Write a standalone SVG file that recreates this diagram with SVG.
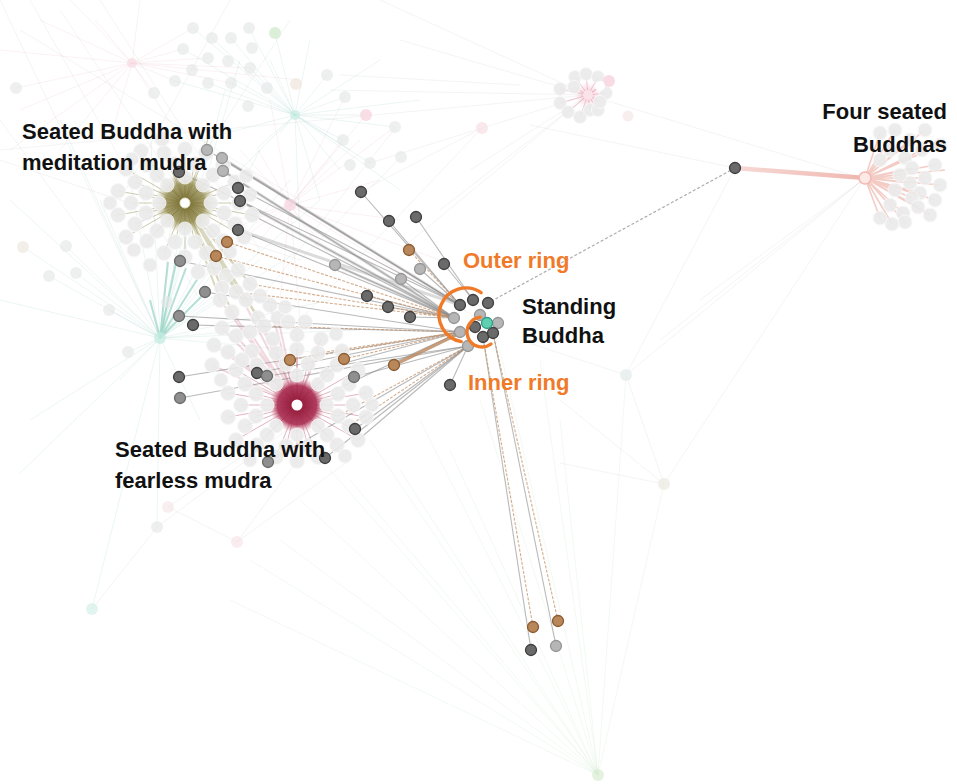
<svg xmlns="http://www.w3.org/2000/svg" width="957" height="784" viewBox="0 0 957 784">
<defs>
<radialGradient id="gOlive"><stop offset="0" stop-color="#6f6528" stop-opacity="0.95"/><stop offset="0.65" stop-color="#8a8140" stop-opacity="0.75"/><stop offset="1" stop-color="#a59c60" stop-opacity="0"/></radialGradient>
<radialGradient id="gCrimson"><stop offset="0" stop-color="#8e1434" stop-opacity="1"/><stop offset="0.7" stop-color="#a82a4e" stop-opacity="0.9"/><stop offset="1" stop-color="#d8879c" stop-opacity="0"/></radialGradient>
<radialGradient id="gPink"><stop offset="0" stop-color="#e58aa4" stop-opacity="0.6"/><stop offset="1" stop-color="#f4c6d3" stop-opacity="0"/></radialGradient>
<linearGradient id="gRed" x1="0" x2="1" y1="0" y2="0"><stop offset="0" stop-color="#f0b4ae"/><stop offset="1" stop-color="#e07262"/></linearGradient>
</defs>
<style>
.bt{fill:none;stroke:#8fcfc0;stroke-width:0.6;opacity:0.3}
.bp{fill:none;stroke:#eab3c4;stroke-width:0.6;opacity:0.3}
.bg{fill:none;stroke:#c9c9c9;stroke-width:0.6;opacity:0.35}
.bgr{fill:none;stroke:#b8dcb8;stroke-width:0.6;opacity:0.3}
.ol{fill:none;stroke:#8c8448;stroke-width:1;opacity:0.45}
.cr{fill:none;stroke:#b4425f;stroke-width:1;opacity:0.4}
.rd{fill:none;stroke:#e48070;stroke-width:1.6;opacity:0.4}
.pk{fill:none;stroke:#e58aa4;stroke-width:1;opacity:0.5}
.pn{fill:#ebebeb;stroke:#f8f8f8;stroke-width:1;opacity:0.9}
.fn{fill:#e3e6e6;opacity:0.6}
.ge{stroke:#8a8a8a;stroke-width:1.1;opacity:0.6;fill:none}
.gt{stroke:#b0b0b0;stroke-width:3;opacity:0.45;fill:none}
.gd{stroke:#8a8a8a;stroke-width:1.2;stroke-dasharray:3 2;opacity:0.7;fill:none}
.oe{stroke:#c08a5c;stroke-width:1.1;stroke-dasharray:3 1.5;opacity:0.7;fill:none}
.ot{stroke:#b8865c;stroke-width:3.5;opacity:0.8;fill:none}
.dk{fill:#6a6a6a;stroke:#3e3e3e;stroke-width:1.3}
.md{fill:#8f8f8f;stroke:#6a6a6a;stroke-width:1.3}
.lt{fill:#b6b6b6;stroke:#959595;stroke-width:1.3}
.or{fill:#b8875a;stroke:#8a5a30;stroke-width:1.3}
.ring{fill:none;stroke:#f07a28;stroke-width:3.4;stroke-linecap:round}
.lbl{font-family:"Liberation Sans",Arial,sans-serif;font-weight:bold;font-size:22px;fill:#111111}
.olbl{font-family:"Liberation Sans",Arial,sans-serif;font-weight:bold;font-size:22px;fill:#f07a28}
</style>
<rect width="957" height="784" fill="#ffffff"/>

<g id="connectors">
<path class="bt" d="M160,338L66,246M160,338L23,247M160,338L49,276M160,338L76,273M160,338L109,310M160,338L128,352M160,338L0,300M160,338L30,420M160,338L20,473M160,338L120,380M160,338L170,230M160,338L190,180M160,338L205,140M160,338L225,90M160,338L240,60M160,338L150,120M160,338L130,180M160,338L100,200M160,338L260,260M160,338L300,250M160,338L330,300M160,338L360,330M160,338L400,360M160,338L200,420M160,338L157,527M160,338L250,330M160,338L230,290M160,338L210,270M160,338L290,180M160,338L92,609M160,338L60,120M160,338L10,200M160,338L260,150M160,338L320,200"/>
<path d="M160,338L176,262M160,338L186,268M160,338L198,278M160,338L168,262M160,338L208,290M160,338L150,300" stroke="#6cc1ab" stroke-width="2" opacity="0.5" fill="none"/>
<path class="bt" d="M295,115L212,38M295,115L231,38M295,115L249,28M295,115L183,49M295,115L250,68M295,115L345,97M295,115L366,115M295,115L395,127M295,115L327,75M295,115L280,133M295,115L257,148M295,115L340,170M295,115L320,200M295,115L231,83M295,115L208,83M295,115L175,81M295,115L193,28M295,115L275,33M295,115L400,190M295,115L380,60M295,115L420,100M295,115L200,140M295,115L240,170M295,115L270,60M295,115L310,40M295,115L350,150M295,115L300,240M295,115L343,140M295,115L370,163"/>
<path class="bp" d="M132,63L40,20M132,63L70,0M132,63L0,50M132,63L20,110M132,63L95,20M132,63L175,81M132,63L183,49M132,63L208,58M132,63L154,93M132,63L110,140M132,63L231,83M132,63L60,150M132,63L10,150M132,63L193,28M132,63L140,0M132,63L250,68M132,63L300,80M132,63L175,130M132,63L16,88"/>
<path class="bp" d="M290,205L240,150M290,205L250,170M290,205L330,160M290,205L360,140M290,205L345,97M290,205L380,180M290,205L400,220M290,205L260,240M290,205L230,230M290,205L200,230M290,205L320,250M290,205L350,280M290,205L280,300M290,205L300,320M290,205L395,127M290,205L440,260M290,205L480,320M290,205L343,140M290,205L257,148M290,205L210,260M290,205L270,100M290,205L366,115"/>
<path class="bg" d="M0,0L160,338M30,0L200,300M60,10L240,280M0,120L160,338M0,160L300,260M20,30L300,200M100,0L260,250M230,0L120,200M290,20L200,160M400,40L588,95M340,75L520,85M330,90L588,95M588,95L440,210M588,95L400,250M588,95L470,170M588,95L370,163M588,95L0,150M588,95L864,179M530,125L735,168M380,0L588,95M482,128L360,192M482,128L300,320M401,157L300,260M396,127L260,300"/>
<path class="bgr" d="M598,775L420,420M598,775L370,440M598,775L330,470M598,775L300,500M598,775L280,540M598,775L480,400M598,775L500,350M598,775L540,360M598,775L626,375M598,775L664,484M598,775L560,420M598,775L450,450M598,775L250,560M598,775L230,600M598,775L400,470M598,775L350,480"/>
<path class="bg" d="M626,375L664,484M626,375L520,340M626,375L864,179M664,484L864,179M560,400L664,484M560,463L664,484M864,179L700,300M864,179L660,340M626,375L735,168M168,507L237,542M157,527L92,609M157,527L300,420M168,507L280,430M237,542L320,430M237,542L350,460"/>
<path class="ol" d="M185,203L211,203M185,203L203,221M185,203L185,229M185,203L167,221M185,203L159,203M185,203L167,185M185,203L185,177M185,203L203,185M185,203L224,213M185,203L213,231M185,203L195,242M185,203L175,242M185,203L157,231M185,203L146,213M185,203L146,193M185,203L157,175M185,203L175,164M185,203L195,164M185,203L213,175M185,203L224,193M185,203L239,203M185,203L235,224M185,203L223,241M185,203L206,253M185,203L185,257M185,203L164,253M185,203L147,241M185,203L135,224M185,203L131,203M185,203L135,182M185,203L147,165M185,203L164,153M185,203L185,149M185,203L206,153M185,203L223,165M185,203L235,182M185,203L252,215M185,203L244,237M185,203L126,237M185,203L118,215M185,203L118,191M185,203L126,169M185,203L141,151M185,203L162,139M185,203L208,139"/>
<path d="M185,203L214,268M185,203L226,276M185,203L238,270M185,203L222,288M185,203L236,292M185,203L250,284M185,203L246,300M185,203L232,312M185,203L258,318M185,203L220,300M185,203L246,306M185,203L264,326" stroke="#a19a5c" stroke-width="2" opacity="0.4" fill="none"/>
<path class="cr" d="M297,405L338,416M297,405L327,435M297,405L308,446M297,405L286,446M297,405L267,435M297,405L256,416M297,405L256,394M297,405L267,375M297,405L286,364M297,405L308,364M297,405L327,375M297,405L338,394M297,405L353,405M297,405L349,426M297,405L337,445M297,405L318,457M297,405L297,461M297,405L276,457M297,405L257,445M297,405L245,426M297,405L241,405M297,405L245,384M297,405L257,365M297,405L276,353M297,405L297,349M297,405L318,353M297,405L337,365M297,405L349,384M297,405L228,393M297,405L236,370M297,405L252,351M297,405L273,339M297,405L297,335M297,405L321,339M297,405L342,351M297,405L358,370M297,405L366,393M297,405L366,417M297,405L358,440M297,405L228,417M297,405L236,440"/>
<path d="M297,405L220,300M297,405L232,312M297,405L246,306M297,405L258,318M297,405L222,328M297,405L236,336M297,405L250,332M297,405L264,326M297,405L214,345M297,405L228,352M297,405L242,360M297,405L212,365M297,405L278,318M297,405L270,305" stroke="#d88ea2" stroke-width="2" opacity="0.35" fill="none"/>
<path class="pk" d="M588,95L575,77M588,95L586,74M588,95L598,77M588,95L609,81M588,95L600,86M588,95L606,93M588,95L560,89M588,95L574,87M588,95L560,103M588,95L568,112M588,95L580,117M588,95L590,110M588,95L598,110M588,95L600,102"/>
<path class="rd" d="M865,178L880,133M865,178L895,130M865,178L910,140M865,178L905,158M865,178L922,150M865,178L935,165M865,178L912,168M865,178L925,178M865,178L940,185M865,178L910,183M865,178L920,193M865,178L935,200M865,178L912,198M865,178L918,207M865,178L930,215M865,178L903,213M865,178L905,222M865,178L892,224M865,178L880,218M865,178L890,205M865,178L895,190M865,178L890,150M865,178L900,175M865,178L880,160M865,178L925,130M865,178L940,145M865,178L945,170"/>
<line x1="735" y1="168" x2="865" y2="178" stroke="url(#gRed)" stroke-width="4.5" opacity="0.5"/>

<line class="gt" x1="223" y1="171" x2="454" y2="318"/>
<line class="gt" x1="240" y1="201" x2="454" y2="318"/>
<line class="gt" x1="335" y1="265" x2="454" y2="318"/>
<line class="gt" x1="238" y1="230" x2="460" y2="305"/>
<line class="gt" x1="222" y1="158" x2="460" y2="305"/>
<line class="ge" x1="207" y1="150" x2="460" y2="305"/>
<line class="ge" x1="222" y1="158" x2="460" y2="305"/>
<line class="ge" x1="223" y1="171" x2="454" y2="318"/>
<line class="ge" x1="179" y1="172" x2="460" y2="305"/>
<line class="ge" x1="238" y1="188" x2="460" y2="305"/>
<line class="ge" x1="240" y1="201" x2="454" y2="318"/>
<line class="ge" x1="238" y1="230" x2="454" y2="318"/>
<line class="ge" x1="180" y1="261" x2="454" y2="318"/>
<line class="ge" x1="205" y1="292" x2="460" y2="332"/>
<line class="ge" x1="179" y1="316" x2="460" y2="332"/>
<line class="ge" x1="193" y1="325" x2="460" y2="332"/>
<line class="ge" x1="179" y1="377" x2="460" y2="332"/>
<line class="ge" x1="180" y1="398" x2="468" y2="346"/>
<line class="ge" x1="257" y1="373" x2="460" y2="332"/>
<line class="ge" x1="267" y1="376" x2="468" y2="346"/>
<line class="ge" x1="354" y1="377" x2="468" y2="346"/>
<line class="ge" x1="355" y1="429" x2="468" y2="346"/>
<line class="ge" x1="268" y1="462" x2="468" y2="346"/>
<line class="ge" x1="325" y1="458" x2="468" y2="346"/>
<line class="ge" x1="388" y1="307" x2="454" y2="318"/>
<line class="ge" x1="361" y1="192" x2="460" y2="305"/>
<line class="ge" x1="389" y1="221" x2="460" y2="305"/>
<line class="ge" x1="416" y1="217" x2="473" y2="300"/>
<line class="ge" x1="444" y1="264" x2="473" y2="300"/>
<line class="ge" x1="420" y1="269" x2="460" y2="305"/>
<line class="ge" x1="335" y1="265" x2="454" y2="318"/>
<line class="ge" x1="401" y1="279" x2="454" y2="318"/>
<line class="ge" x1="367" y1="296" x2="454" y2="318"/>
<line class="ge" x1="410" y1="317" x2="454" y2="318"/>
<line class="ge" x1="450" y1="385" x2="468" y2="346"/>
<line class="ge" x1="531" y1="650" x2="483" y2="337"/>
<line class="ge" x1="556" y1="646" x2="493" y2="333"/>
<line class="ge" x1="345" y1="385" x2="460" y2="332"/>
<line class="ge" x1="358" y1="440" x2="468" y2="346"/>
<line class="ge" x1="337" y1="365" x2="460" y2="332"/>
<line class="ge" x1="252" y1="215" x2="454" y2="318"/>
<line class="gd" x1="735" y1="168" x2="488" y2="303"/>
<line class="oe" x1="227" y1="242" x2="454" y2="318"/>
<line class="oe" x1="216" y1="256" x2="454" y2="318"/>
<line class="oe" x1="290" y1="360" x2="460" y2="332"/>
<line class="oe" x1="344" y1="359" x2="460" y2="332"/>
<line class="oe" x1="409" y1="250" x2="460" y2="305"/>
<line class="oe" x1="533" y1="627" x2="483" y2="337"/>
<line class="oe" x1="558" y1="621" x2="493" y2="333"/>
<line class="oe" x1="250" y1="284" x2="454" y2="318"/>
<line class="oe" x1="264" y1="326" x2="460" y2="332"/>
<line class="oe" x1="338" y1="416" x2="468" y2="346"/>
<line class="oe" x1="236" y1="292" x2="454" y2="318"/>
<line class="oe" x1="318" y1="353" x2="460" y2="332"/>
<line class="oe" x1="349" y1="426" x2="468" y2="346"/>
<line class="ot" x1="394" y1="365" x2="458" y2="334"/>
</g>

<g id="background-nodes">
<circle class="fn" cx="193" cy="28" r="6"/><circle class="fn" cx="212" cy="38" r="6"/><circle class="fn" cx="231" cy="38" r="6"/><circle class="fn" cx="249" cy="28" r="6"/>
<circle cx="275" cy="33" r="6" fill="#cde8c8" opacity="0.7"/>
<circle class="fn" cx="183" cy="49" r="6"/><circle class="fn" cx="208" cy="58" r="6"/><circle class="fn" cx="228" cy="61" r="6"/><circle class="fn" cx="250" cy="68" r="6"/><circle class="fn" cx="252" cy="48" r="6"/>
<circle class="fn" cx="175" cy="81" r="6"/><circle class="fn" cx="192" cy="70" r="6"/><circle class="fn" cx="208" cy="83" r="6"/><circle class="fn" cx="231" cy="83" r="6"/><circle class="fn" cx="248" cy="106" r="6"/><circle class="fn" cx="267" cy="88" r="6"/>
<circle class="fn" cx="154" cy="93" r="6"/><circle class="fn" cx="16" cy="88" r="6"/><circle cx="296" cy="84" r="6" fill="#eee6dc" opacity="0.7"/><circle class="fn" cx="327" cy="75" r="6"/><circle class="fn" cx="345" cy="97" r="6"/>
<circle cx="366" cy="115" r="6" fill="#f7d6de" opacity="0.8"/><circle class="fn" cx="395" cy="127" r="6"/><circle class="fn" cx="343" cy="140" r="6"/><circle class="fn" cx="350" cy="165" r="6"/><circle class="fn" cx="370" cy="163" r="6"/><circle class="fn" cx="401" cy="157" r="6"/>
<circle cx="482" cy="128" r="6" fill="#f7e0e4" opacity="0.7"/><circle cx="628" cy="116" r="5.5" fill="#f5e2e2" opacity="0.6"/>
<circle cx="132" cy="63" r="5" fill="#f7dce2" opacity="0.7"/><circle cx="295" cy="115" r="5" fill="#c8ece2" opacity="0.7"/><circle cx="290" cy="205" r="6" fill="#f6d8e2" opacity="0.8"/>
<circle cx="23" cy="247" r="6" fill="#ece8df" opacity="0.7"/><circle class="fn" cx="66" cy="246" r="6"/><circle class="fn" cx="49" cy="276" r="6"/><circle class="fn" cx="76" cy="273" r="6"/><circle class="fn" cx="109" cy="310" r="6"/><circle class="fn" cx="128" cy="352" r="6"/><circle class="fn" cx="167" cy="302" r="6"/>
<circle cx="160" cy="338" r="6" fill="#c6ece2" opacity="0.8"/>
<circle class="fn" cx="157" cy="527" r="6"/><circle cx="168" cy="507" r="6" fill="#f7e4e6" opacity="0.6"/><circle cx="237" cy="542" r="6" fill="#f7e0e4" opacity="0.6"/><circle cx="92" cy="609" r="6" fill="#d6efe8" opacity="0.7"/>
<circle cx="626" cy="375" r="6" fill="#e6ecee" opacity="0.8"/><circle cx="664" cy="484" r="6" fill="#ecece4" opacity="0.8"/><circle cx="598" cy="775" r="6" fill="#d8ecd2" opacity="0.7"/>
</g>

<g id="hub-meditation">
<circle cx="185" cy="203" r="30" fill="url(#gOlive)"/>
<g class="pn">
<circle cx="211" cy="203" r="7"/><circle cx="203" cy="221" r="7"/><circle cx="185" cy="229" r="7"/><circle cx="167" cy="221" r="7"/><circle cx="159" cy="203" r="7"/><circle cx="167" cy="185" r="7"/><circle cx="185" cy="177" r="7"/><circle cx="203" cy="185" r="7"/>
<circle cx="224" cy="213" r="7.5"/><circle cx="213" cy="231" r="7.5"/><circle cx="195" cy="242" r="7.5"/><circle cx="175" cy="242" r="7.5"/><circle cx="157" cy="231" r="7.5"/><circle cx="146" cy="213" r="7.5"/><circle cx="146" cy="193" r="7.5"/><circle cx="157" cy="175" r="7.5"/><circle cx="175" cy="164" r="7.5"/><circle cx="195" cy="164" r="7.5"/><circle cx="213" cy="175" r="7.5"/><circle cx="224" cy="193" r="7.5"/>
<circle cx="239" cy="203" r="7.5"/><circle cx="235" cy="224" r="7.5"/><circle cx="223" cy="241" r="7.5"/><circle cx="206" cy="253" r="7.5"/><circle cx="185" cy="257" r="7.5"/><circle cx="164" cy="253" r="7.5"/><circle cx="147" cy="241" r="7.5"/><circle cx="135" cy="224" r="7.5"/><circle cx="131" cy="203" r="7.5"/><circle cx="135" cy="182" r="7.5"/><circle cx="147" cy="165" r="7.5"/><circle cx="164" cy="153" r="7.5"/><circle cx="185" cy="149" r="7.5"/><circle cx="206" cy="153" r="7.5"/><circle cx="223" cy="165" r="7.5"/><circle cx="235" cy="182" r="7.5"/>
<circle cx="252" cy="215" r="7.5"/><circle cx="244" cy="237" r="7.5"/><circle cx="126" cy="237" r="7.5"/><circle cx="118" cy="215" r="7.5"/><circle cx="118" cy="191" r="7.5"/><circle cx="126" cy="169" r="7.5"/><circle cx="141" cy="151" r="7.5"/><circle cx="162" cy="139" r="7.5"/>
<circle cx="250" cy="195" r="7"/><circle cx="230" cy="252" r="7"/><circle cx="134" cy="250" r="7"/><circle cx="110" cy="203" r="7"/><circle cx="132" cy="159" r="7"/><circle cx="246" cy="176" r="7"/><circle cx="150" cy="265" r="7"/>
<circle cx="214" cy="268" r="7.5"/><circle cx="226" cy="276" r="7.5"/><circle cx="238" cy="270" r="7.5"/><circle cx="222" cy="288" r="7.5"/><circle cx="236" cy="292" r="7.5"/><circle cx="250" cy="284" r="7.5"/><circle cx="246" cy="300" r="7.5"/><circle cx="198" cy="272" r="7.5"/>
</g>
<circle cx="185" cy="203" r="5" fill="#ffffff" stroke="#e8e4c8" stroke-width="1"/>
</g>

<g id="hub-fearless">
<circle cx="297" cy="405" r="28" fill="url(#gCrimson)"/>
<g class="pn">
<circle cx="327" cy="405" r="7"/><circle cx="318" cy="426" r="7"/><circle cx="297" cy="435" r="7"/><circle cx="276" cy="426" r="7"/><circle cx="267" cy="405" r="7"/><circle cx="276" cy="384" r="7"/><circle cx="297" cy="375" r="7"/><circle cx="318" cy="384" r="7"/>
<circle cx="338" cy="416" r="7.5"/><circle cx="327" cy="435" r="7.5"/><circle cx="308" cy="446" r="7.5"/><circle cx="286" cy="446" r="7.5"/><circle cx="267" cy="435" r="7.5"/><circle cx="256" cy="416" r="7.5"/><circle cx="256" cy="394" r="7.5"/><circle cx="267" cy="375" r="7.5"/><circle cx="286" cy="364" r="7.5"/><circle cx="308" cy="364" r="7.5"/><circle cx="327" cy="375" r="7.5"/><circle cx="338" cy="394" r="7.5"/>
<circle cx="353" cy="405" r="7.5"/><circle cx="349" cy="426" r="7.5"/><circle cx="337" cy="445" r="7.5"/><circle cx="318" cy="457" r="7.5"/><circle cx="297" cy="461" r="7.5"/><circle cx="276" cy="457" r="7.5"/><circle cx="257" cy="445" r="7.5"/><circle cx="245" cy="426" r="7.5"/><circle cx="241" cy="405" r="7.5"/><circle cx="245" cy="384" r="7.5"/><circle cx="257" cy="365" r="7.5"/><circle cx="276" cy="353" r="7.5"/><circle cx="297" cy="349" r="7.5"/><circle cx="318" cy="353" r="7.5"/><circle cx="337" cy="365" r="7.5"/><circle cx="349" cy="384" r="7.5"/>
<circle cx="228" cy="393" r="7.5"/><circle cx="236" cy="370" r="7.5"/><circle cx="252" cy="351" r="7.5"/><circle cx="273" cy="339" r="7.5"/><circle cx="297" cy="335" r="7.5"/><circle cx="321" cy="339" r="7.5"/><circle cx="342" cy="351" r="7.5"/><circle cx="358" cy="370" r="7.5"/><circle cx="366" cy="393" r="7.5"/><circle cx="366" cy="417" r="7.5"/><circle cx="358" cy="440" r="7.5"/><circle cx="228" cy="417" r="7.5"/><circle cx="236" cy="440" r="7.5"/>
<circle cx="220" cy="300" r="7.5"/><circle cx="232" cy="312" r="7.5"/><circle cx="258" cy="318" r="7.5"/><circle cx="222" cy="328" r="7.5"/><circle cx="236" cy="336" r="7.5"/><circle cx="250" cy="332" r="7.5"/><circle cx="264" cy="326" r="7.5"/><circle cx="214" cy="345" r="7.5"/><circle cx="228" cy="352" r="7.5"/><circle cx="242" cy="360" r="7.5"/><circle cx="212" cy="365" r="7.5"/><circle cx="278" cy="318" r="7.5"/><circle cx="270" cy="305" r="7.5"/><circle cx="288" cy="322" r="7.5"/><circle cx="305" cy="322" r="7.5"/><circle cx="260" cy="296" r="7.5"/>
<circle cx="372" cy="405" r="7"/><circle cx="345" cy="456" r="7"/><circle cx="250" cy="460" r="7"/><circle cx="221" cy="380" r="7"/><circle cx="336" cy="334" r="7"/><circle cx="285" cy="307" r="7"/>
</g>
<circle cx="297" cy="405" r="5.5" fill="#ffffff"/>
</g>

<g id="hub-pink-top">
<circle cx="588" cy="95" r="14" fill="url(#gPink)"/>
<g class="pn">
<circle cx="575" cy="77" r="6.5"/><circle cx="586" cy="74" r="6.5"/><circle cx="598" cy="77" r="6.5"/><circle cx="606" cy="93" r="6.5"/><circle cx="560" cy="89" r="6.5"/><circle cx="574" cy="87" r="6.5"/><circle cx="560" cy="103" r="6.5"/><circle cx="568" cy="112" r="6.5"/><circle cx="580" cy="117" r="6.5"/><circle cx="590" cy="110" r="6.5"/><circle cx="598" cy="110" r="6.5"/><circle cx="600" cy="102" r="6.5"/>
</g>
<circle cx="609" cy="81" r="6" fill="#f8dbe3"/><circle cx="600" cy="86" r="5" fill="#ffffff"/>
<circle cx="588" cy="95" r="5" fill="#fbe3ea"/>
</g>

<g id="hub-four-seated">
<g class="pn">
<circle cx="880" cy="133" r="7"/><circle cx="895" cy="130" r="7"/><circle cx="910" cy="140" r="7"/><circle cx="905" cy="158" r="7"/><circle cx="922" cy="150" r="7"/><circle cx="935" cy="165" r="7"/><circle cx="912" cy="168" r="7"/><circle cx="925" cy="178" r="7"/><circle cx="940" cy="185" r="7"/><circle cx="910" cy="183" r="7"/><circle cx="920" cy="193" r="7"/><circle cx="935" cy="200" r="7"/><circle cx="912" cy="198" r="7"/><circle cx="918" cy="207" r="7"/><circle cx="930" cy="215" r="7"/><circle cx="903" cy="213" r="7"/><circle cx="905" cy="222" r="7"/><circle cx="892" cy="224" r="7"/><circle cx="880" cy="218" r="7"/><circle cx="890" cy="205" r="7"/><circle cx="895" cy="190" r="7"/><circle cx="890" cy="150" r="7"/><circle cx="900" cy="175" r="7"/><circle cx="880" cy="160" r="7"/><circle cx="925" cy="130" r="7"/><circle cx="940" cy="145" r="7"/>
</g>
<circle cx="865" cy="178" r="6" fill="#fde9e6" stroke="#f4b8b0" stroke-width="1.5"/>
</g>

<g id="outer-ring-nodes">
<circle class="lt" cx="207" cy="150" r="5.5"/><circle class="lt" cx="222" cy="158" r="5.5"/><circle class="lt" cx="223" cy="171" r="5.5"/>
<circle class="dk" cx="179" cy="172" r="5.5"/><circle class="dk" cx="238" cy="188" r="5.5"/><circle class="dk" cx="240" cy="201" r="5.5"/><circle class="dk" cx="238" cy="230" r="5.5"/>
<circle class="or" cx="227" cy="242" r="5.5"/><circle class="or" cx="216" cy="256" r="5.5"/>
<circle class="md" cx="180" cy="261" r="5.5"/><circle class="md" cx="205" cy="292" r="5.5"/><circle class="md" cx="179" cy="316" r="5.5"/><circle class="dk" cx="193" cy="325" r="5.5"/>
<circle class="dk" cx="179" cy="377" r="5.5"/><circle class="md" cx="180" cy="398" r="5.5"/>
<circle class="dk" cx="257" cy="373" r="5.5"/><circle class="md" cx="267" cy="376" r="5.5"/><circle class="or" cx="290" cy="360" r="5.5"/><circle class="or" cx="344" cy="359" r="5.5"/><circle class="md" cx="354" cy="377" r="5.5"/>
<circle class="dk" cx="355" cy="429" r="5.5"/><circle class="md" cx="268" cy="462" r="5.5"/><circle class="dk" cx="325" cy="458" r="5.5"/>
<circle class="dk" cx="361" cy="192" r="5.5"/><circle class="dk" cx="389" cy="221" r="5.5"/><circle class="dk" cx="416" cy="217" r="5.5"/><circle class="or" cx="409" cy="250" r="5.5"/>
<circle class="dk" cx="444" cy="264" r="5.5"/><circle class="lt" cx="420" cy="269" r="5.5"/><circle class="lt" cx="335" cy="265" r="5.5"/><circle class="lt" cx="401" cy="279" r="5.5"/>
<circle class="dk" cx="367" cy="296" r="5.5"/><circle class="dk" cx="388" cy="307" r="5.5"/><circle class="dk" cx="410" cy="317" r="5.5"/><circle class="or" cx="394" cy="365" r="5.5"/><circle class="dk" cx="450" cy="385" r="5.5"/>
<circle class="or" cx="533" cy="627" r="5.5"/><circle class="or" cx="558" cy="621" r="5.5"/><circle class="dk" cx="531" cy="650" r="5.5"/><circle class="lt" cx="556" cy="646" r="5.5"/>
<circle class="dk" cx="735" cy="168" r="5.5"/>
</g>

<g id="standing-buddha">
<path class="ring" d="M481.1,292.6 A27,27 0 1 0 461.3,341.6"/>
<circle class="dk" cx="460" cy="305" r="5.5"/><circle class="dk" cx="473" cy="300" r="5.5"/><circle class="dk" cx="488" cy="303" r="5.5"/>
<circle class="lt" cx="454" cy="318" r="5.5"/><circle class="lt" cx="480" cy="315" r="5.5"/><circle class="lt" cx="498" cy="323" r="5.5"/>
<circle class="lt" cx="460" cy="332" r="5.5"/><circle class="lt" cx="468" cy="346" r="5.5"/>
<circle class="dk" cx="475" cy="327" r="5.5"/><circle class="dk" cx="483" cy="337" r="5.5"/><circle class="dk" cx="493" cy="333" r="5.5"/>
<circle cx="487" cy="323" r="5.5" fill="#5fd0b2" stroke="#2e9c84" stroke-width="1.3"/>
<path class="ring" d="M480.2,317.1 A15,15 0 1 0 491,344"/>
</g>

<g id="labels">
<text class="lbl" x="22" y="139">Seated Buddha with</text>
<text class="lbl" x="22" y="170">meditation mudra</text>
<text class="lbl" x="947" y="119" text-anchor="end">Four seated</text>
<text class="lbl" x="947" y="152" text-anchor="end">Buddhas</text>
<text class="olbl" x="463" y="268">Outer ring</text>
<text class="lbl" x="522" y="314">Standing</text>
<text class="lbl" x="522" y="343">Buddha</text>
<text class="olbl" x="468" y="390">Inner ring</text>
<text class="lbl" x="115" y="457">Seated Buddha with</text>
<text class="lbl" x="115" y="488">fearless mudra</text>
</g>
</svg>
